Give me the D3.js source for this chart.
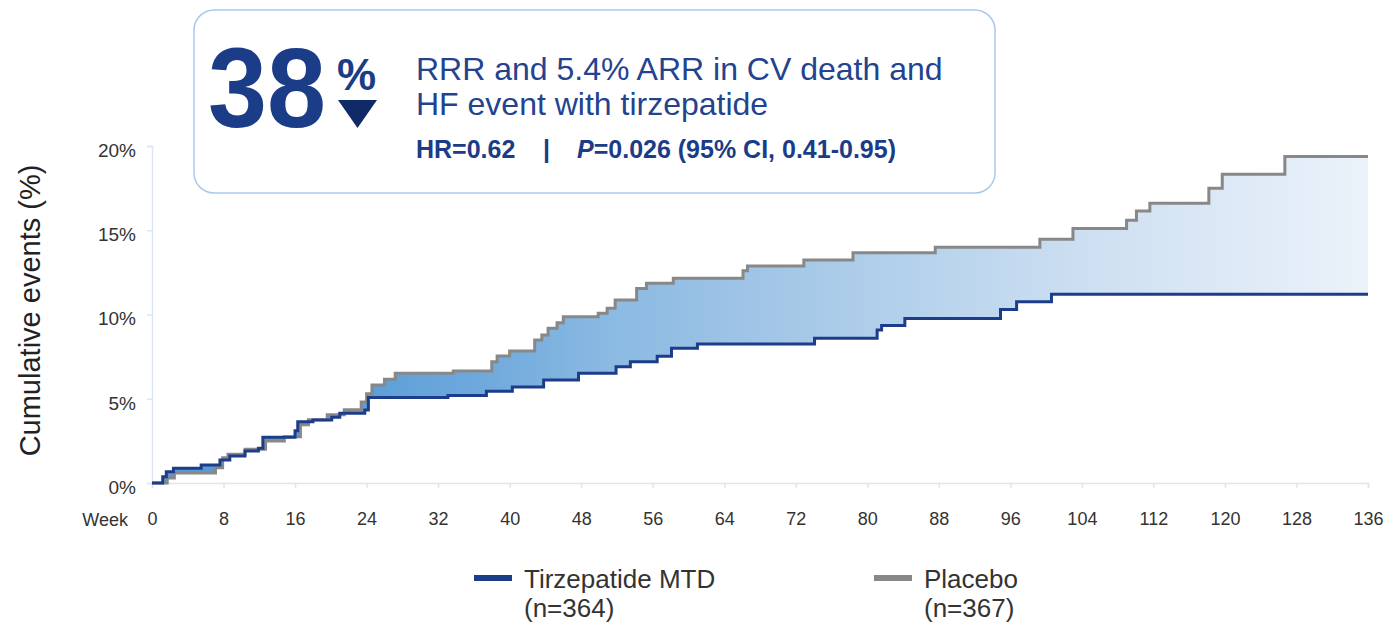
<!DOCTYPE html>
<html>
<head>
<meta charset="utf-8">
<script src="https://cdn.jsdelivr.net/npm/d3@7"></script>
<style>
  html, body { margin: 0; padding: 0; background: #fff; }
  svg { display: block; font-family: "Liberation Sans", Arial, sans-serif; }
</style>
</head>
<body>
<div id="chart"></div>
<script>
// Kaplan-Meier style cumulative events, [week, %] at each step
var tirzepatide = [
    [0, 0], [1.2, 0.37], [1.6, 0.67], [2.4, 0.87], [5.5, 1.07], [7.6, 1.36], [8.7, 1.6],
    [10.4, 1.9], [11.9, 2.06], [12.4, 2.71], [16.0, 3.1], [16.3, 3.64], [18.0, 3.74],
    [20.1, 3.9], [21.0, 4.14], [23.8, 4.33], [24.2, 5.08], [33.1, 5.2], [37.4, 5.45],
    [40.3, 5.7], [43.8, 6.12], [47.7, 6.51], [51.9, 6.9], [53.5, 7.2], [56.5, 7.52],
    [58.1, 7.99], [61.0, 8.25], [74.1, 8.59], [81.1, 9.08], [81.6, 9.35], [84.2, 9.77],
    [94.9, 10.3], [96.7, 10.76], [100.6, 11.2], [136, 11.2]
];
var placebo = [
    [0, 0], [1.7, 0.3], [2.5, 0.6], [7.1, 0.9], [7.9, 1.5], [8.5, 1.7], [10.4, 2.0],
    [12.7, 2.5], [14.8, 2.75], [16.6, 3.45], [17.5, 3.75], [19.6, 4.05], [21.5, 4.35],
    [23.4, 4.8], [24.0, 5.3], [24.6, 5.82], [26.0, 6.15], [27.2, 6.51], [33.7, 6.65],
    [38.0, 7.2], [38.6, 7.54], [40.0, 7.83], [42.8, 8.49], [43.6, 8.78], [44.3, 9.18],
    [45.3, 9.51], [46.0, 9.87], [49.9, 10.07], [50.9, 10.37], [51.8, 10.86], [54.2, 11.55],
    [55.3, 11.85], [58.3, 12.15], [66.1, 12.6], [66.6, 12.88], [72.9, 13.23], [78.4, 13.67],
    [87.6, 13.99], [99.3, 14.46], [103.0, 15.1], [109.0, 15.6], [110.1, 16.14], [111.6, 16.6],
    [118.2, 17.49], [119.7, 18.32], [126.7, 19.37], [136, 19.37]
];
var weekTicks = [0, 8, 16, 24, 32, 40, 48, 56, 64, 72, 80, 88, 96, 104, 112, 120, 128, 136];
var pctTicks = [0, 5, 10, 15, 20];
var legendNames = ["Tirzepatide MTD", "Placebo"];
var legendCounts = ["(n=364)", "(n=367)"];

var width = 1388, height = 626;
var navy = "#1d3d8a", grey = "#888888", tickGrey = "#dde6f0", textGrey = "#333333";

var svg = d3.select("#chart").append("svg")
    .attr("width", width)
    .attr("height", height);

var x = d3.scaleLinear().domain([0, 136]).range([152, 1368]);
var y = d3.scaleLinear().domain([0, 20]).range([483, 146]);

// gradient for the area between the curves
var grad = svg.append("defs").append("linearGradient")
    .attr("id", "gapFill")
    .attr("gradientUnits", "userSpaceOnUse")
    .attr("x1", x(0)).attr("x2", x(136))
    .attr("y1", 0).attr("y2", 0);
grad.selectAll("stop")
    .data([
        {offset: 0, color: "#5799d5"},
        {offset: 0.18, color: "#5e9fd8"},
        {offset: 0.27, color: "#6ea9dc"},
        {offset: 0.37, color: "#89b9e2"},
        {offset: 0.49, color: "#9fc4e6"},
        {offset: 0.64, color: "#b7d3ec"},
        {offset: 0.78, color: "#cfe0f2"},
        {offset: 1, color: "#ebf2fa"}
    ])
    .enter().append("stop")
    .attr("offset", function (d) { return d.offset; })
    .attr("stop-color", function (d) { return d.color; });

// axes
var yAxis = svg.append("g")
    .attr("transform", "translate(" + x(0) + ",0)")
    .call(d3.axisLeft(y).tickValues(pctTicks).tickFormat(function (d) { return d + "%"; })
        .tickSize(5).tickPadding(11));
var xAxis = svg.append("g")
    .attr("transform", "translate(0," + y(0) + ")")
    .call(d3.axisBottom(x).tickValues(weekTicks).tickSize(5).tickPadding(24));

[yAxis, xAxis].forEach(function (g) {
    g.select(".domain").attr("stroke", tickGrey).attr("stroke-width", 1.5);
    g.selectAll(".tick line").attr("stroke", tickGrey).attr("stroke-width", 1.5);
    g.selectAll(".tick text")
        .attr("fill", textGrey)
        .style("font-size", "18px")
        .style("font-family", "'Liberation Sans', Arial, sans-serif");
});
yAxis.selectAll(".tick text").style("font-size", "19px").attr("dy", "0.55em");

svg.append("text")
    .attr("x", 128).attr("y", y(0) + 43)
    .attr("text-anchor", "end")
    .attr("fill", textGrey)
    .style("font-size", "18px")
    .text("Week");

svg.append("text")
    .attr("transform", "translate(40," + (y(10) - 4) + ") rotate(-90)")
    .attr("text-anchor", "middle")
    .attr("fill", "#222")
    .style("font-size", "29px")
    .text("Cumulative events (%)");

// step lookup
function stepAt(series, w) {
    var i = d3.bisector(function (d) { return d[0]; }).right(series, w) - 1;
    return series[Math.max(0, i)][1];
}
var allWeeks = Array.from(new Set(tirzepatide.map(function (d) { return d[0]; })
    .concat(placebo.map(function (d) { return d[0]; })))).sort(d3.ascending);
var gap = allWeeks.map(function (w) {
    return {w: w, lo: stepAt(tirzepatide, w), hi: stepAt(placebo, w)};
});

svg.append("path")
    .datum(gap)
    .attr("fill", "url(#gapFill)")
    .attr("d", d3.area()
        .curve(d3.curveStepAfter)
        .x(function (d) { return x(d.w); })
        .y0(function (d) { return y(d.lo); })
        .y1(function (d) { return y(d.hi); }));

var line = d3.line()
    .curve(d3.curveStepAfter)
    .x(function (d) { return x(d[0]); })
    .y(function (d) { return y(d[1]); });

svg.append("path")
    .datum(placebo)
    .attr("fill", "none")
    .attr("stroke", grey)
    .attr("stroke-width", 3)
    .attr("d", line);

svg.append("path")
    .datum(tirzepatide)
    .attr("fill", "none")
    .attr("stroke", navy)
    .attr("stroke-width", 3)
    .attr("d", line);

// call-out box
var box = svg.append("g");
box.append("rect")
    .attr("x", 194).attr("y", 10)
    .attr("width", 801).attr("height", 183)
    .attr("rx", 20)
    .attr("fill", "#fff")
    .attr("stroke", "#a9c9ec")
    .attr("stroke-width", 1.5);

box.append("text")
    .attr("x", 208).attr("y", 127)
    .attr("fill", "#1b3c87")
    .style("font-size", "114px")
    .style("font-weight", "bold")
    .attr("textLength", 118)
    .attr("lengthAdjust", "spacingAndGlyphs")
    .text("38");
box.append("text")
    .attr("x", 337).attr("y", 90)
    .attr("fill", "#1b3c87")
    .style("font-size", "44px")
    .style("font-weight", "bold")
    .text("%");
box.append("path")
    .attr("d", "M338,100 L377,100 L357.5,128 Z")
    .attr("fill", "#0f2a66");

box.append("text")
    .attr("x", 416).attr("y", 80)
    .attr("fill", "#23438f")
    .style("font-size", "32px")
    .text("RRR and 5.4% ARR in CV death and");
box.append("text")
    .attr("x", 416).attr("y", 115)
    .attr("fill", "#23438f")
    .style("font-size", "32px")
    .text("HF event with tirzepatide");

var stats = box.append("text")
    .attr("x", 416).attr("y", 158)
    .attr("fill", "#1b3c87")
    .style("font-size", "25px")
    .style("font-weight", "bold");
stats.append("tspan").text("HR=0.62");
stats.append("tspan").attr("x", 543).text("|");
stats.append("tspan").attr("x", 577).style("font-style", "italic").text("P");
stats.append("tspan").text("=0.026 (95% CI, 0.41-0.95)");

// legend
var legend = svg.append("g")
    .selectAll("g")
    .data(legendNames)
    .enter().append("g")
    .attr("transform", function (d, i) { return "translate(" + (474 + i * 400) + ",0)"; });
legend.append("rect")
    .attr("x", 0).attr("y", 575)
    .attr("width", 38).attr("height", 6)
    .attr("fill", function (d, i) { return i === 0 ? navy : grey; });
legend.append("text")
    .attr("x", 50).attr("y", 588)
    .attr("fill", textGrey)
    .style("font-size", "26px")
    .text(function (d) { return d; });
legend.append("text")
    .attr("x", 50).attr("y", 617)
    .attr("fill", textGrey)
    .style("font-size", "26px")
    .text(function (d, i) { return legendCounts[i]; });
</script>
</body>
</html>
